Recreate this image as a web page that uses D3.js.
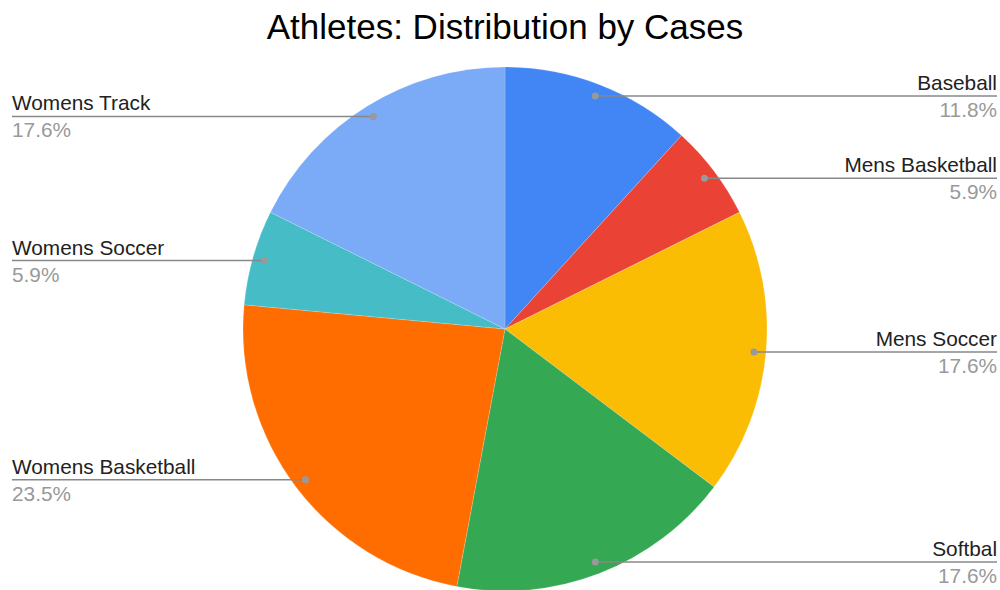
<!DOCTYPE html>
<html>
<head>
<meta charset="utf-8">
<script src="https://cdn.jsdelivr.net/npm/d3@7"></script>
<style>
  body { margin: 0; background: #fff; }
  text { font-family: "Liberation Sans", Arial, sans-serif; }
</style>
</head>
<body>
<svg id="chart" width="1000" height="590"></svg>
<script>
var categories = ["Baseball", "Mens Basketball", "Mens Soccer", "Softbal", "Womens Basketball", "Womens Soccer", "Womens Track"];
var cases = [2, 1, 3, 3, 4, 1, 3];
var colors = ["#4285f4", "#ea4335", "#fbbc04", "#34a853", "#ff6d01", "#46bdc6", "#7baaf7"];

var svg = d3.select("#chart"),
  width = +svg.attr("width"),
  cx = 505, cy = 329, radius = 262;

var data = categories.map(function(c, i) { return {name: c, value: cases[i], color: colors[i]}; });
var total = d3.sum(cases);

svg.append("text")
  .attr("x", cx)
  .attr("y", 39)
  .attr("text-anchor", "middle")
  .style("font-size", "35px")
  .style("fill", "#000")
  .text("Athletes: Distribution by Cases");

var pie = d3.pie().sort(null).value(function(d) { return d.value; });
var arc = d3.arc().innerRadius(0).outerRadius(radius);

var g = svg.append("g").attr("transform", "translate(" + cx + "," + cy + ")");
var arcs = pie(data);

g.selectAll(".slice")
  .data(arcs)
  .enter().append("path")
  .attr("class", "slice")
  .attr("d", arc)
  .style("fill", function(d) { return d.data.color; })
  .style("stroke", "#fff")
  .style("stroke-width", 0.3)
  .style("stroke-opacity", 0.6);

var fmt = d3.format(".1%");

arcs.forEach(function(d) {
  var mid = (d.startAngle + d.endAngle) / 2;
  var p = [250 * Math.sin(mid), -250 * Math.cos(mid)];
  var px = cx + p[0], py = cy + p[1];
  var right = p[0] > 0;
  var ex = right ? 997 : 12;

  svg.append("line")
    .attr("x1", px).attr("y1", py)
    .attr("x2", ex).attr("y2", py)
    .attr("stroke", "#888")
    .attr("stroke-width", 1.5);

  svg.append("circle")
    .attr("cx", px).attr("cy", py).attr("r", 3.5)
    .style("fill", "#999");

  svg.append("text")
    .attr("x", ex).attr("y", py - 6)
    .attr("text-anchor", right ? "end" : "start")
    .style("font-size", "20.8px")
    .style("fill", "#222")
    .text(d.data.name);

  svg.append("text")
    .attr("x", ex).attr("y", py + 21)
    .attr("text-anchor", right ? "end" : "start")
    .style("font-size", "20.8px")
    .style("fill", "#999")
    .text(fmt(d.data.value / total));
});
</script>
</body>
</html>
